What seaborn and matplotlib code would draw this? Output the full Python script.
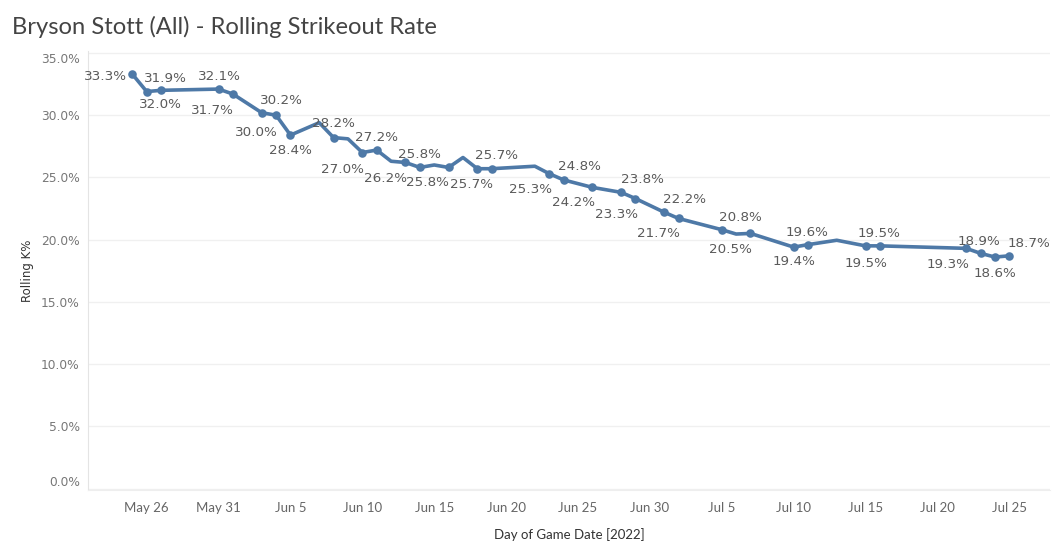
import matplotlib
matplotlib.use("Agg")
import matplotlib.pyplot as plt
import matplotlib.ticker as mticker
import seaborn as sns
import pandas as pd

# rolling K% by game date (2022)
game_dates = ["2022-05-25", "2022-05-26", "2022-05-27", "2022-05-31", "2022-06-01",
              "2022-06-03", "2022-06-04", "2022-06-05", "2022-06-07", "2022-06-08",
              "2022-06-09", "2022-06-10", "2022-06-11", "2022-06-12", "2022-06-13",
              "2022-06-14", "2022-06-15", "2022-06-16", "2022-06-17", "2022-06-18",
              "2022-06-19", "2022-06-22", "2022-06-23", "2022-06-24", "2022-06-26",
              "2022-06-28", "2022-06-29", "2022-07-01", "2022-07-02", "2022-07-05",
              "2022-07-06", "2022-07-07", "2022-07-10", "2022-07-11", "2022-07-13",
              "2022-07-15", "2022-07-16", "2022-07-22", "2022-07-23", "2022-07-24",
              "2022-07-25"]
rolling_k = [33.3, 31.9, 32.0, 32.1, 31.7,
             30.2, 30.0, 28.4, 29.4, 28.2,
             28.1, 27.0, 27.2, 26.3, 26.2,
             25.8, 26.0, 25.8, 26.6, 25.7,
             25.7, 25.9, 25.3, 24.8, 24.2,
             23.8, 23.3, 22.2, 21.7, 20.8,
             20.45, 20.5, 19.4, 19.6, 19.95,
             19.5, 19.5, 19.3, 18.9, 18.6,
             18.7]

# which points carry a label, and where the label sits (pixel offsets)
label_offsets = {
    "2022-05-25": (-27, -2), "2022-05-26": (19, 13), "2022-05-27": (-1, -14),
    "2022-05-31": (1, 13), "2022-06-01": (-21, -16), "2022-06-03": (20, 12),
    "2022-06-04": (-20, -17), "2022-06-05": (0, -15), "2022-06-08": (0, 14),
    "2022-06-10": (-20, -17), "2022-06-11": (0, 13), "2022-06-13": (-20, -16),
    "2022-06-14": (0, 13), "2022-06-16": (-21, -15), "2022-06-18": (-6, -16),
    "2022-06-19": (5, 13), "2022-06-23": (-19, -16), "2022-06-24": (16, 13),
    "2022-06-26": (-19, -15), "2022-06-28": (21, 13), "2022-06-29": (-19, -16),
    "2022-07-01": (20, 13), "2022-07-02": (-20, -15), "2022-07-05": (19, 12),
    "2022-07-07": (-20, -16), "2022-07-10": (0, -14), "2022-07-11": (-1, 12),
    "2022-07-15": (0, -18), "2022-07-16": (-1, 12), "2022-07-22": (-18, -16),
    "2022-07-23": (-2, 12), "2022-07-24": (0, -16), "2022-07-25": (20, 12),
}

y_ticks = [0, 5, 10, 15, 20, 25, 30, 35]

df = pd.DataFrame({"date": pd.to_datetime(game_dates), "k": rolling_k})
df["labeled"] = [d in label_offsets for d in game_dates]

sns.set_style("white")
plt.rcParams["font.family"] = ["Lato", "DejaVu Sans"]
wide_font = "DejaVu Sans"

line_color = "#4e79a7"
text_color = "#5a5a5a"

fig = plt.figure(figsize=(10.62, 5.56), dpi=100)
ax = fig.add_axes([88 / 1062, 1 - 490 / 556, (1050 - 88) / 1062, (490 - 51) / 556])

sns.lineplot(data=df, x="date", y="k", ax=ax, color=line_color, linewidth=2.6)
sns.scatterplot(data=df[df["labeled"]], x="date", y="k", ax=ax, color=line_color,
                s=38, edgecolor=line_color, linewidth=0, zorder=3)

for d, v in zip(game_dates, rolling_k):
    if d in label_offsets:
        dx, dy = label_offsets[d]
        ax.annotate(f"{v:.1f}%", (pd.Timestamp(d), v), xytext=(dx, dy),
                    textcoords="offset pixels", ha="center", va="center",
                    fontsize=9.7, color=text_color, family=wide_font)

ax.set_ylim(-0.12, 35.16)
ax.set_xlim(pd.Timestamp("2022-05-21 22:00"), pd.Timestamp("2022-07-27 20:00"))
ax.set_yticks(y_ticks)
ax.yaxis.set_major_formatter(mticker.FuncFormatter(lambda v, p: f"{v:.1f}%"))
ticks = pd.date_range("2022-05-26", "2022-07-25", freq="5D")
ax.set_xticks(ticks)
ax.set_xticklabels([f"{t.strftime('%b')} {t.day}" for t in ticks])

ax.grid(axis="y", color="#f0f0f0", linewidth=1)
ax.set_axisbelow(True)
for side in ["top", "right"]:
    ax.spines[side].set_visible(False)
ax.spines["left"].set_color("#e4e4e4")
ax.spines["bottom"].set_color("#eeeeee")
ax.tick_params(axis="y", length=0, pad=6, labelsize=8.8, labelcolor="#777777")
ax.tick_params(axis="x", length=0, pad=9, labelsize=9.5, labelcolor="#666666")

ylabels = ax.get_yticklabels()
for lab in ylabels:
    lab.set_family(wide_font)
ylabels[0].set_va("bottom")
ylabels[-1].set_va("top")

ax.set_xlabel("Day of Game Date [2022]", fontsize=9.5, color="#333333", labelpad=10)
ax.set_ylabel("Rolling K%", fontsize=8.5, color="#333333", labelpad=5, family=wide_font)

fig.text(12 / 1062, 1 - 27 / 556, "Bryson Stott (All) - Rolling Strikeout Rate",
         fontsize=17.1, color="#444444", va="center", ha="left")

fig.savefig("out.png", dpi=100)
